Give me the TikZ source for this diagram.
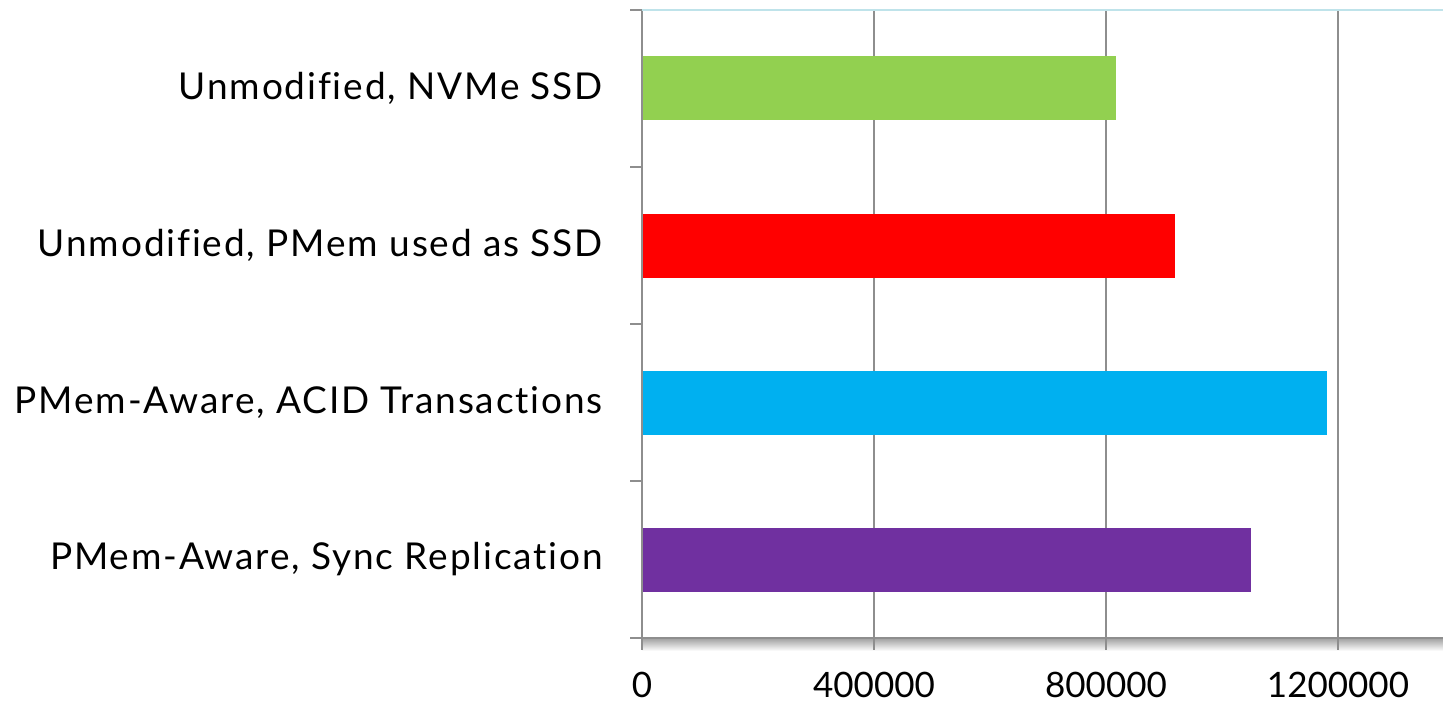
\documentclass[tikz,border=0pt]{standalone}
\usepackage{fontspec}
\setmainfont{Lato}[Ligatures=NoCommon]
\newfontfamily\catfont{Lato}[Ligatures=NoCommon,LetterSpace=5]
\usepackage{xcolor}
\definecolor{barGreen}{HTML}{92D050}
\definecolor{barRed}{HTML}{FF0000}
\definecolor{barBlue}{HTML}{00B0F0}
\definecolor{barPurple}{HTML}{7030A0}
\definecolor{gridGray}{HTML}{8E8E8E}
\definecolor{topCyan}{HTML}{BFE3EA}
\tikzset{
  gridline/.style={gridGray,line width=2pt},
  catlabel/.style={anchor=east,inner sep=0pt,font=\catfont\fontsize{37}{42}\selectfont},
  numlabel/.style={anchor=north,inner sep=0pt,font=\fontsize{35}{40}\selectfont}
}

\begin{document}
\begin{tikzpicture}[x=1pt,y=-1pt]
% values in thousands, 0.58pt per thousand
\def\ox{642}\def\yT{10}\def\yB{638}\def\sc{0.58}
\useasboundingbox (0,0) rectangle (1443,706);
% shadow under the value axis
\shade[top color=gray!75,bottom color=white] (\ox,\yB) rectangle (1443,651);
% vertical grid and value labels
\foreach \v/\lab [count=\i] in {0/0,400/400000,800/800000,1200/1200000}{
  \draw[gridline] ({\ox+\v*\sc},\yT) -- ({\ox+\v*\sc},650);
  \node[numlabel] (num\i) at ({\ox+\v*\sc},672) {\lab};
}
\draw[topCyan,line width=2pt] (\ox,\yT) -- (1443,\yT);
\draw[gridline] (630,\yB) -- (1443,\yB);
\foreach \y in {10,167,324,481}{\draw[gridline] (630,\y) -- (\ox,\y);}
% bars, top to bottom
\foreach \v/\c/\lab [count=\i] in {817/barGreen/{Unmodified, NVMe SSD},
  919/barRed/{Unmodified, PMem used as SSD},
  1181/barBlue/{PMem-Aware, ACID Transactions},
  1050/barPurple/{PMem-Aware, Sync Replication}}{
  \pgfmathsetmacro\yc{10+157*(\i-0.5)}
  \fill[\c] (\ox+1,\yc-32) rectangle ({\ox+\v*\sc},\yc+32);
  \node[catlabel] (cat\i) at (603,\yc) {\lab};
}
\end{tikzpicture}
\end{document}
